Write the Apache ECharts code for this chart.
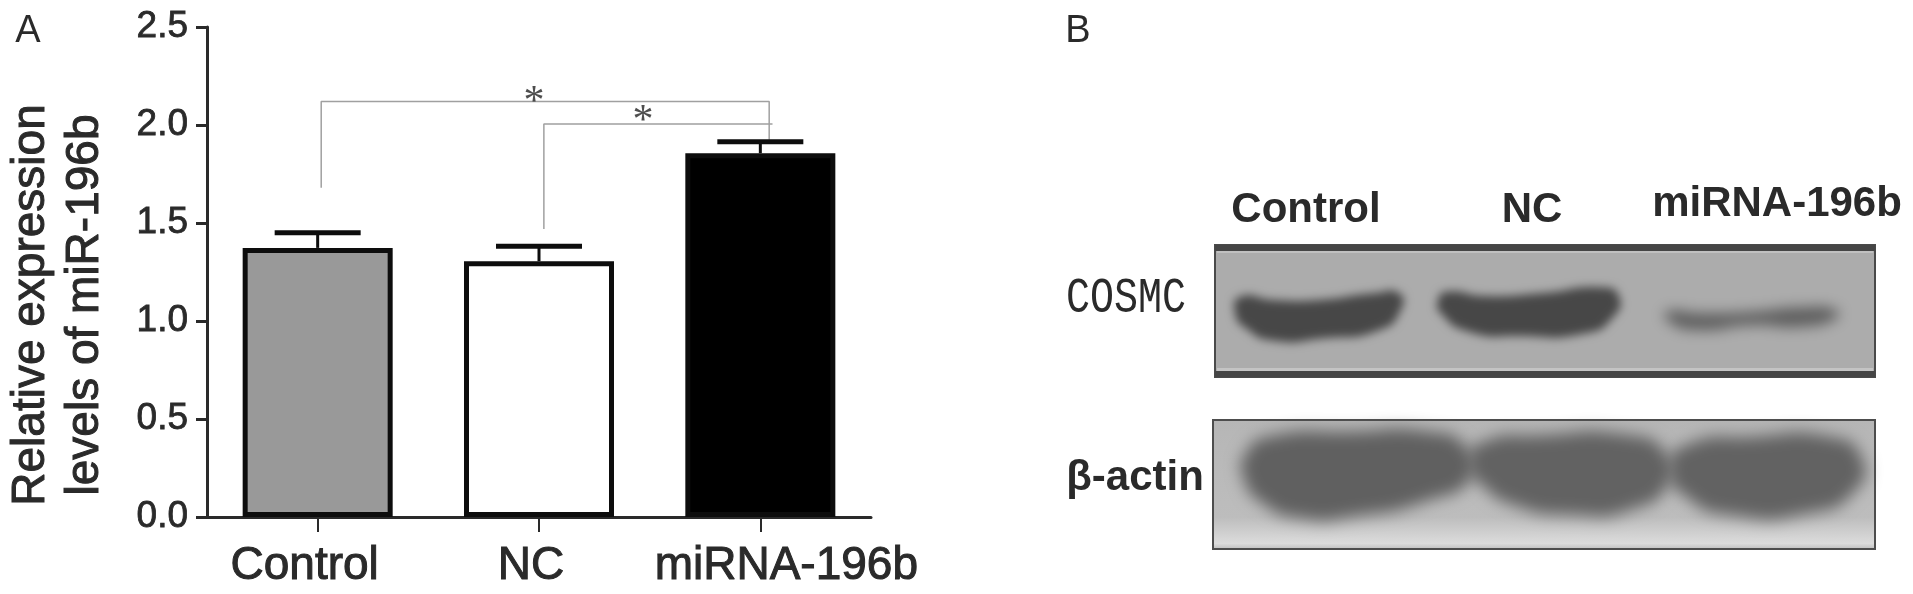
<!DOCTYPE html>
<html><head><meta charset="utf-8">
<style>html,body{margin:0;padding:0;background:#fff}#c{width:1913px;height:594px}</style>
<script src="https://cdn.jsdelivr.net/npm/echarts@6/dist/echarts.min.js"></script>
</head><body><div id="c"></div>
<script>
const categories = ['Control', 'NC', 'miRNA-196b'];
const meanValues = [1.373, 1.305, 1.856];
const errorTops = [1.45, 1.382, 1.914];
const barColors = ['#999999', '#ffffff', '#000000'];
const bracketOuter = [[0.516, 1.68], [0.516, 2.12], [2.54, 2.12], [2.54, 1.925]];
const bracketInner = [[1.522, 1.47], [1.522, 2.005], [2.555, 2.005]];
const starPoints = [[1.477, 2.11], [1.97, 2.015]];
const yTicks = [0, 0.5, 1, 1.5, 2, 2.5];

const FONT = '"Liberation Sans", Arial, sans-serif';
const INK = '#2a2a2a';
const gridBox = { left: 207, top: 27, width: 664, height: 490, outerBoundsMode: 'none' };

const blotA = { x: 1215, y: 245, width: 660, height: 132 };
const blotB = { x: 1213, y: 420, width: 662, height: 129 };
// helper mapping crop-read outline points onto the page
const bx = z => 1040 + z / 1.796, by = z => 150 + z / 3;
const outline = list => list.map(p => [bx(p[0]), by(p[1])]);
const OFF = 3000;
const band = (pts, fill, blur) => ({
  type: 'polygon', z: 5, x: -OFF, silent: true,
  shape: { points: outline(pts), smooth: 0.6 },
  style: { fill, shadowColor: fill, shadowBlur: blur, shadowOffsetX: OFF }
});
const label = (text, x, y, font, extra) => ({
  type: 'text', z: 10, x, y, scaleY: (extra && extra.sy) || 1,
  style: { text, font, fill: INK, align: 'center', verticalAlign: 'middle',
    textBorderColor: INK, textBorderWidth: (extra && extra.bw) || 0 }
});

const blotGraphics = [
  { type: 'rect', z: 2, shape: blotA, style: { fill: '#acacac', stroke: '#4a4a4a', lineWidth: 2 } },
  { type: 'rect', z: 3, shape: { x: blotA.x, y: blotA.y, width: blotA.width, height: 6 }, style: { fill: '#454545' } },
  { type: 'rect', z: 3, shape: { x: blotA.x + 2, y: blotA.y + 6, width: blotA.width - 4, height: 2 }, style: { fill: '#c0c0c0' } },
  { type: 'rect', z: 3, shape: { x: blotA.x + 2, y: blotA.y + blotA.height - 9, width: blotA.width - 4, height: 3 }, style: { fill: '#c4c4c4' } },
  { type: 'rect', z: 3, shape: { x: blotA.x, y: blotA.y + blotA.height - 6, width: blotA.width, height: 6 }, style: { fill: '#454545' } },
  band([[360, 440], [420, 450], [500, 450], [600, 430], [645, 430], [648, 480], [610, 540], [510, 565], [420, 572], [370, 535], [350, 485]], '#474747', 10),
  band([[730, 425], [800, 438], [900, 430], [1010, 412], [1040, 440], [1030, 500], [980, 550], [860, 558], [770, 545], [720, 490], [715, 450]], '#474747', 10),
  band([[1125, 485], [1190, 490], [1280, 485], [1370, 472], [1430, 480], [1430, 505], [1370, 530], [1280, 525], [1180, 540], [1130, 515]], '#5e5e5e', 14),

  { type: 'rect', z: 2, shape: blotB, style: { stroke: '#4d4d4d', lineWidth: 2,
      fill: { type: 'linear', x: 0, y: 0, x2: 0, y2: 1, colorStops: [{ offset: 0, color: '#b6b6b6' }, { offset: 0.75, color: '#bdbdbd' }, { offset: 0.95, color: '#dcdcdc' }, { offset: 1, color: '#bbbbbb' }] } } },
  band([[410, 860], [560, 845], [700, 845], [765, 890], [775, 980], [700, 1050], [560, 1100], [470, 1105], [400, 1060], [365, 980], [370, 910]], '#606060', 16),
  band([[790, 880], [900, 855], [1060, 855], [1125, 910], [1130, 1000], [1060, 1080], [960, 1095], [850, 1065], [790, 1000], [770, 950]], '#626262', 16),
  band([[1160, 885], [1280, 860], [1420, 860], [1475, 920], [1465, 1020], [1380, 1090], [1240, 1095], [1160, 1040], [1130, 960]], '#626262', 16),

  label('Control', 1306, 210, `bold 42px ${FONT}`),
  label('NC', 1532, 210, `bold 42px ${FONT}`),
  label('miRNA-196b', 1777, 204, `bold 42px ${FONT}`),
  label('COSMC', 1126, 299, `40px "Liberation Mono", monospace`, { sy: 1.25 }),
  label('β-actin', 1135, 478, `bold 42px ${FONT}`),
  label('A', 28, 32, `38px ${FONT}`),
  label('B', 1078, 32, `38px ${FONT}`)
];

const chart = echarts.init(document.getElementById('c'), null, { renderer: 'canvas' });
chart.setOption({
  animation: false,
  backgroundColor: '#ffffff',
  textStyle: { fontFamily: FONT },
  grid: gridBox,
  xAxis: [
    { type: 'category', data: categories,
      axisLine: { show: true, lineStyle: { color: INK, width: 3 } },
      axisTick: { show: true, alignWithLabel: true, length: 15, lineStyle: { color: INK, width: 2 } },
      axisLabel: { interval: 0, margin: 26, fontSize: 46, color: INK, fontFamily: FONT,
        formatter: (v, i) => `{c${i}|${v}}`,
        rich: {
          c0: { fontSize: 46, color: INK, textBorderColor: INK, textBorderWidth: 1, padding: [0, 26, 0, 0] },
          c1: { fontSize: 46, color: INK, textBorderColor: INK, textBorderWidth: 1, padding: [0, 16, 0, 0] },
          c2: { fontSize: 46, color: INK, textBorderColor: INK, textBorderWidth: 1, padding: [0, 0, 0, 52] }
        } } },
    { type: 'value', min: 0, max: 3, show: false, position: 'bottom' }
  ],
  yAxis: {
    type: 'value', min: 0, max: 2.5, interval: 0.5,
    name: 'Relative expression\nlevels of miR-196b',
    nameLocation: 'middle', nameRotate: 90, nameGap: 95,
    nameTextStyle: { fontSize: 46, lineHeight: 54, color: INK, fontFamily: FONT, textBorderColor: INK, textBorderWidth: 1, padding: [0, 66, 0, 0] },
    axisLine: { show: true, lineStyle: { color: INK, width: 3 } },
    axisTick: { show: true, length: 11, lineStyle: { color: INK, width: 3 } },
    axisLabel: { fontSize: 37, color: INK, margin: 19, fontFamily: FONT, textBorderColor: INK, textBorderWidth: 0.8, formatter: v => v.toFixed(1), customValues: yTicks },
    splitLine: { show: false }
  },
  series: [
    { type: 'bar', xAxisIndex: 0, barWidth: 150,
      data: meanValues.map((v, i) => ({ value: v, itemStyle: { color: barColors[i], borderColor: '#0d0d0d', borderWidth: 5 } })) },
    { type: 'custom', xAxisIndex: 0, z: 4,
      data: errorTops.map((t, i) => [i, meanValues[i], t]),
      renderItem: (params, api) => {
        const a = api.coord([api.value(0), api.value(1)]);
        const b = api.coord([api.value(0), api.value(2)]);
        const s = { stroke: '#0d0d0d', lineWidth: 5 };
        return { type: 'group', children: [
          { type: 'line', shape: { x1: a[0], y1: a[1], x2: b[0], y2: b[1] }, style: { stroke: '#0d0d0d', lineWidth: 3 } },
          { type: 'line', shape: { x1: a[0] - 43, y1: b[1], x2: a[0] + 43, y2: b[1] }, style: s }
        ] };
      } },
    { type: 'line', xAxisIndex: 1, data: bracketOuter, symbol: 'none', z: 3, lineStyle: { color: '#a0a0a0', width: 1.5 } },
    { type: 'line', xAxisIndex: 1, data: bracketInner, symbol: 'none', z: 3, lineStyle: { color: '#a0a0a0', width: 1.5 } },
    { type: 'scatter', xAxisIndex: 1, data: starPoints, symbolSize: 0, z: 6,
      label: { show: true, position: 'inside', formatter: '*', fontSize: 42, color: '#222', fontFamily: '"Liberation Serif", serif' } }
  ],
  graphic: { elements: blotGraphics }
});
</script></body></html>
